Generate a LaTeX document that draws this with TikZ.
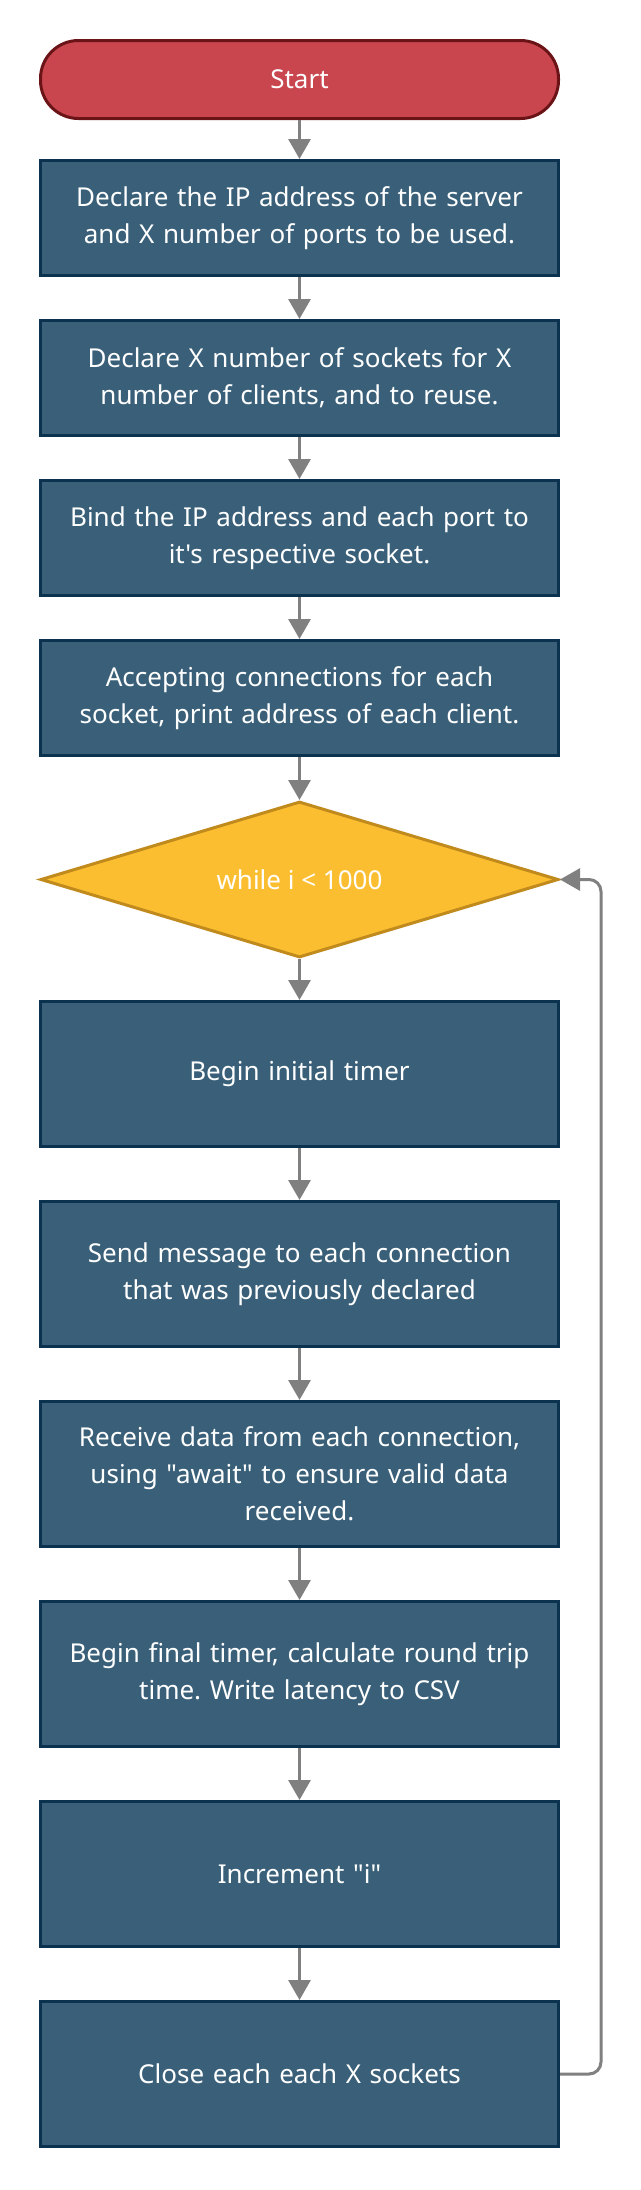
\documentclass[tikz,border=0pt]{standalone}
\usepackage{fontspec}
\setmainfont{Noto Sans}[Ligatures=TeXOff]
\usetikzlibrary{arrows.meta, positioning, shapes.geometric, calc}

\definecolor{startfill}{HTML}{C9464F}
\definecolor{startline}{HTML}{6A1418}
\definecolor{boxfill}{HTML}{3A6079}
\definecolor{boxline}{HTML}{0B3350}
\definecolor{condfill}{HTML}{FCBE31}
\definecolor{condline}{HTML}{C08A1C}
\definecolor{arrowgray}{HTML}{808080}

\frenchspacing
\begin{document}
\begin{tikzpicture}[
  node distance=42pt,
  every node/.style={font=\fontsize{26}{37}\selectfont, text=white},
  terminal/.style={draw=startline, fill=startfill, line width=3pt, rounded corners=38pt, minimum width=518pt, minimum height=78pt, align=center},
  box/.style={draw=boxline, fill=boxfill, line width=3pt, minimum width=518pt, minimum height=115pt, text width=500pt, align=center},
  tallbox/.style={box, minimum height=145pt},
  cond/.style={draw=condline, fill=condfill, line width=3pt, diamond, aspect=3.3, inner sep=0pt, minimum width=518pt, minimum height=156pt, align=center},
  arrow/.style={-{Triangle[length=20pt, width=22pt]}, draw=arrowgray, line width=3pt}
  ]
\useasboundingbox (0pt,0pt) rectangle (640pt,-2190pt);

% Nodes
\node[terminal] (start) at (299.5pt,-79.5pt) {Start};
\node[box, below=39pt of start] (declip) {Declare the IP address of the server\\and X number of ports to be used.};
\node[box, below=of declip] (declsock) {Declare X number of sockets for X\\number of clients, and to reuse.};
\node[box, below=of declsock] (bind) {Bind the IP address and each port to\\it's respective socket.};
\node[box, below=of bind] (accept) {Accepting connections for each\\socket, print address of each client.};
\node[cond, below=43pt of accept] (loop) {while i < 1000};
\node[tallbox, below=41pt of loop] (tstart) {Begin initial timer};
\node[tallbox, below=52pt of tstart] (send) {Send message to each connection\\that was previously declared};
\node[tallbox, below=52pt of send] (recv) {Receive data from each connection,\\using "await" to ensure valid data\\received.};
\node[tallbox, below=52pt of recv] (tend) {Begin final timer, calculate round trip\\time. Write latency to CSV};
\node[tallbox, below=52pt of tend] (incr) {Increment "i"};
\node[tallbox, below=52pt of incr] (close) {Close each each X sockets};

% Arrows
\draw[arrow] (start) -- (declip);
\draw[arrow] (declip) -- (declsock);
\draw[arrow] (declsock) -- (bind);
\draw[arrow] (bind) -- (accept);
\draw[arrow] (accept) -- (loop);
\draw[arrow] (loop) -- (tstart);
\draw[arrow] (tstart) -- (send);
\draw[arrow] (send) -- (recv);
\draw[arrow] (recv) -- (tend);
\draw[arrow] (tend) -- (incr);
\draw[arrow] (incr) -- (close);
\draw[arrow, rounded corners=12pt] (close.east) -- ++(41pt,0) |- (loop.east);

\end{tikzpicture}
\end{document}
